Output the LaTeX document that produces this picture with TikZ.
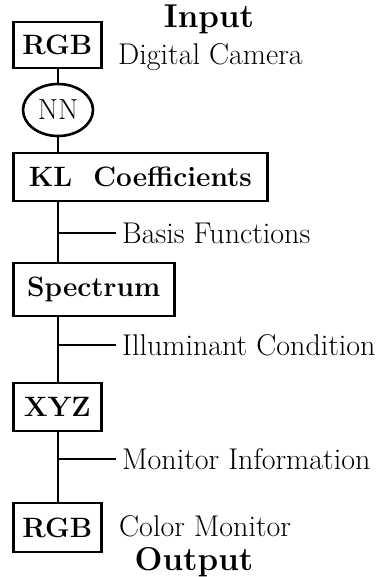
\documentclass[tikz,border=0pt]{standalone}
\usepackage{fontspec}
\usetikzlibrary{shapes.geometric}
\begin{document}
\begin{tikzpicture}[
    x=1pt, y=-1pt,
    every node/.style={font=\fontsize{30}{32}\selectfont},
    blk/.style={draw, line width=2.6pt, anchor=west, inner sep=0pt,
                minimum height=46pt,
                font=\fontsize{28}{30}\selectfont\bfseries\addfontfeatures{LetterSpace=5}},
    nnode/.style={draw, ellipse, line width=2.6pt, inner sep=0pt,
                  minimum width=70pt, minimum height=52pt,
                  font=\fontsize{29}{31}\selectfont},
    link/.style={line width=2.6pt},
    lbl/.style={anchor=west, inner sep=6pt},
    io/.style={anchor=base, font=\fontsize{33}{35}\selectfont\bfseries\addfontfeatures{LetterSpace=8}},
]
\useasboundingbox (0,0) rectangle (386,577);

% ── Entrada ──
\node[io] (in) at (209,28) {Input};
\node[blk, minimum width=88pt] (rgbin) at (12,45) {RGB};
\node[anchor=base west, inner sep=0pt] (cam) at (118,65) {Digital Camera};
\node[nnode] (nn) at (58,110) {NN};

% ── Bloques de conversion ──
\node[blk, minimum width=254pt, minimum height=48pt] (kl) at (12,177) {KL\ \ Coefficients};
\node[blk, minimum width=161pt, minimum height=53pt] (spec) at (12,289.5) {Spectrum};
\node[blk, minimum width=88pt, minimum height=48pt] (xyz) at (12,407) {XYZ};
\node[blk, minimum width=88pt, minimum height=49pt] (rgbout) at (12,527.5) {RGB};

% ── Salida ──
\node[anchor=base west, inner sep=0pt] (mon) at (119,536) {Color Monitor};
\node[io] (out) at (194,570) {Output};

% ── Puntos de union ──
\coordinate (j1) at (58,233);
\coordinate (j2) at (58,345);
\coordinate (j3) at (58,459);
\node[lbl] (basis) at (116,233) {Basis Functions};
\node[lbl] (illum) at (116,345) {Illuminant Condition};
\node[lbl] (minfo) at (116,459) {Monitor Information};

% ── Enlaces ──
\draw[link] (rgbin.south -| nn) -- (nn.north);
\draw[link] (nn.south) -- (nn.south |- kl.north);
\draw[link] (nn |- kl.south) -- (nn |- spec.north);
\draw[link] (nn |- spec.south) -- (nn |- xyz.north);
\draw[link] (nn |- xyz.south) -- (nn |- rgbout.north);
\draw[link] (j1) -- (basis.west);
\draw[link] (j2) -- (illum.west);
\draw[link] (j3) -- (minfo.west);
\end{tikzpicture}
\end{document}
